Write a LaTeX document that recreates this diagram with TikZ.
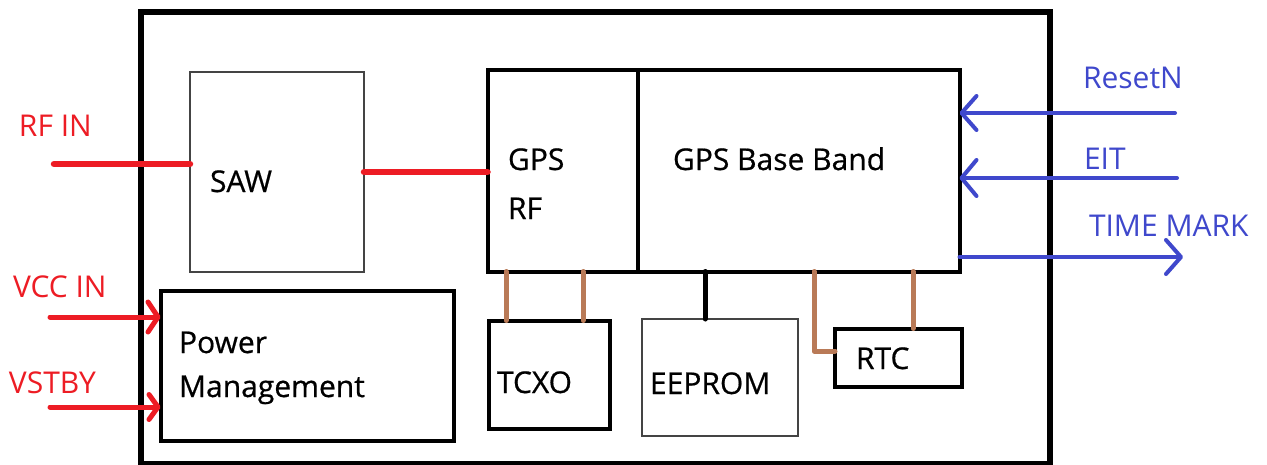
\documentclass[tikz,border=0pt]{standalone}
\usepackage{fontspec}
\setmainfont{Open Sans}
\newfontfamily\blackfont{Open Sans}[FakeBold=0.6]
\newfontfamily\colfont{Open Sans}
\usetikzlibrary{arrows.meta}
\definecolor{pred}{HTML}{ED1C24}
\definecolor{pblue}{HTML}{3F48CC}
\definecolor{pbrown}{HTML}{B97A57}
\definecolor{pgray}{HTML}{444444}
\begin{document}
\begin{tikzpicture}[x=1pt,y=-1pt,
  box/.style={draw=black,line width=4pt,inner sep=0pt,outer sep=0pt},
  thinbox/.style={draw=pgray,line width=1.5pt,inner sep=0pt,outer sep=0pt},
  txt/.style={anchor=base west,inner sep=0pt,outer sep=0pt,font=\blackfont\fontsize{30}{34}\selectfont},
  ctxt/.style={anchor=base west,inner sep=0pt,outer sep=0pt,font=\colfont\fontsize{30}{34}\selectfont},
  redline/.style={draw=pred,line width=6.5pt,line cap=round},
  redarrow/.style={draw=pred,line width=5pt,line cap=round},
  bluearrow/.style={draw=pblue,line width=4pt,line cap=round},
  brownlink/.style={draw=pbrown,line width=5pt,line cap=round,line join=round},
  blacklink/.style={draw=black,line width=5pt,line cap=round}
]
\useasboundingbox (0,0) rectangle (1267,464);
\clip (0,0) rectangle (1267,464);
\fill[white] (0,0) rectangle (1267,464);

% outer module frame
\node[box,line width=6.5pt,minimum width=909pt,minimum height=452pt] (module) at (595.5,238) {};

% blocks
\node[thinbox,minimum width=174pt,minimum height=200pt] (saw) at (277,172) {};
\node[box,minimum width=150.5pt,minimum height=202pt] (rf) at (562.75,170.5) {};
\node[box,minimum width=321.5pt,minimum height=202pt] (bb) at (798.75,170.5) {};
\node[box,minimum width=293.5pt,minimum height=149.5pt] (pm) at (307.25,365.75) {};
\node[box,minimum width=121.5pt,minimum height=108.5pt] (tcxo) at (549.25,374.75) {};
\node[thinbox,minimum width=156pt,minimum height=117pt] (eeprom) at (720,377.5) {};
\node[box,minimum width=127pt,minimum height=58.5pt] (rtc) at (898.5,357.75) {};

% texts
\node[txt] (sawt) at (210,192) {SAW};
\node[txt] (rft1) at (508,170) {GPS};
\node[txt] (rft2) at (508,219) {RF};
\node[txt] (bbt) at (673,170) {GPS Base Band};
\node[txt] (pmt1) at (179,353) {Power};
\node[txt] (pmt2) at (179,397) {Management};
\node[txt] (tcxot) at (497,393) {TCXO};
\node[txt] (eepromt) at (650,394) {EEPROM};
\node[txt] (rtct) at (856,369) {RTC};

\node[ctxt,text=pred] (rfinl) at (19,136) {RF IN};
\node[ctxt,text=pred] (vccl) at (13,297) {VCC IN};
\node[ctxt,text=pred] (vstbyl) at (9,393) {VSTBY};
\node[ctxt,text=pblue] (resetl) at (1083,88) {ResetN};
\node[ctxt,text=pblue] (eitl) at (1084,169) {EIT};
\node[ctxt,text=pblue] (tml) at (1089,236) {TIME MARK};

% free ends and helper coordinates
\coordinate (rfin) at (54,164);
\coordinate (vcc) at (50,317);
\coordinate (vstby) at (50,407);
\coordinate (reset) at (1175,113);
\coordinate (eit) at (1177,178);
\coordinate (tm) at (1183,257);
\coordinate (x1) at (506,0);
\coordinate (x2) at (583,0);
\coordinate (x3) at (705,0);
\coordinate (x4) at (814,0);
\coordinate (x5) at (913,0);
\coordinate (y1) at (0,351);

% red connections
\draw[redline] (rfin) -- (saw.west |- rfin);
\draw[redline] (saw.east) -- (rf.west |- saw.east);
\draw[redarrow,-{Straight Barb[length=10pt,width=30pt,round]}] (vcc) -- (pm.west |- vcc);
\draw[redarrow,-{Straight Barb[length=9pt,width=25pt,round]}] (vstby) -- (pm.west |- vstby);

% blue connections
\draw[bluearrow,-{Straight Barb[length=15pt,width=34pt,round]}] (reset) -- (bb.east |- reset);
\draw[bluearrow,-{Straight Barb[length=15pt,width=36pt,round]}] (eit) -- (bb.east |- eit);
\draw[bluearrow,-{Straight Barb[length=15pt,width=34pt,round]}] (bb.east |- tm) -- (tm);

% internal links
\draw[brownlink] (rf.south -| x1) -- (tcxo.north -| x1);
\draw[brownlink] (rf.south -| x2) -- (tcxo.north -| x2);
\draw[blacklink] (bb.south -| x3) -- (eeprom.north -| x3);
\draw[brownlink] (bb.south -| x4) |- (rtc.west |- y1);
\draw[brownlink] (bb.south -| x5) -- (rtc.north -| x5);
\end{tikzpicture}
\end{document}
